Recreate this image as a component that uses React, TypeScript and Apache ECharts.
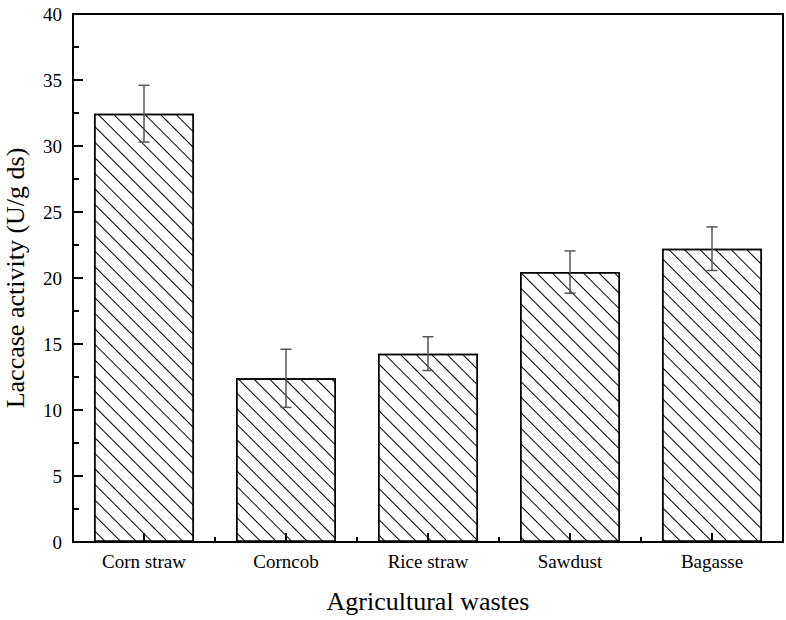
import React, { useEffect, useRef } from "react";
import * as echarts from "echarts";

const categories = ["Corn straw", "Corncob", "Rice straw", "Sawdust", "Bagasse"];
const meanValues = [32.45, 12.4, 14.27, 20.45, 22.22];
const errorValues = [2.15, 2.2, 1.28, 1.6, 1.65];
const yTicks = { min: 0, max: 40, interval: 5 };

const FONT = "Times New Roman";
const TICK = "#000";

export default function App() {
  const ref = useRef<HTMLDivElement>(null);

  useEffect(() => {
    document.body.style.margin = "0";
    if (!ref.current) return;
    const chart = echarts.init(ref.current, undefined, { renderer: "svg" });

    const errData = categories.map((_, i) => [i, meanValues[i], errorValues[i]]);
    const axisLineStyle = { color: "#000", width: 2 };

    const option: any = {
      animation: false,
      backgroundColor: "#fff",
      textStyle: { fontFamily: FONT, color: "#000" },
      grid: { left: 73, right: 3, top: 14, bottom: 78, outerBoundsMode: "none", containLabel: false },
      xAxis: [
        {
          type: "category",
          data: categories,
          name: "Agricultural wastes",
          nameLocation: "middle",
          nameGap: 46,
          nameTextStyle: { fontFamily: FONT, fontSize: 26, color: "#000" },
          axisLine: { show: true, onZero: false, lineStyle: axisLineStyle },
          axisTick: {
            show: true,
            inside: true,
            interval: 0,
            length: 5,
            lineStyle: { color: TICK, width: 2 },
          },
          axisLabel: { fontFamily: FONT, fontSize: 19, color: "#000", margin: 10 },
          splitLine: { show: false },
          z: 10,
        },
        {
          type: "category",
          data: categories,
          position: "top",
          axisLine: { show: true, onZero: false, lineStyle: axisLineStyle },
          axisTick: { show: false },
          axisLabel: { show: false },
          splitLine: { show: false },
          z: 10,
        },
      ],
      yAxis: [
        {
          type: "value",
          min: yTicks.min,
          max: yTicks.max,
          interval: yTicks.interval,
          name: "Laccase activity (U/g ds)",
          nameLocation: "middle",
          nameRotate: 90,
          nameGap: 45,
          nameTextStyle: { fontFamily: FONT, fontSize: 26, color: "#000" },
          axisLine: { show: true, onZero: false, lineStyle: axisLineStyle },
          axisTick: { show: true, inside: true, length: 10, lineStyle: { color: TICK, width: 2 } },
          minorTick: { show: true, splitNumber: 2, length: 6, lineStyle: { color: TICK, width: 2 } },
          axisLabel: { fontFamily: FONT, fontSize: 19, color: "#000", margin: 11 },
          splitLine: { show: false },
          z: 10,
        },
        {
          type: "value",
          position: "right",
          min: yTicks.min,
          max: yTicks.max,
          interval: yTicks.interval,
          axisLine: { show: true, onZero: false, lineStyle: axisLineStyle },
          axisTick: { show: false },
          axisLabel: { show: false },
          splitLine: { show: false },
          z: 10,
        },
      ],
      series: [
        {
          type: "bar",
          data: meanValues,
          barWidth: 100,
          itemStyle: {
            color: "#fff",
            borderColor: "#000",
            borderWidth: 1.5,
            decal: {
              symbol: "rect",
              symbolSize: 1,
              color: "#000",
              backgroundColor: "#fff",
              dashArrayX: [1, 0],
              dashArrayY: [0.6, 9.6],
              rotation: Math.PI / 4,
            },
          },
          z: 2,
        },
        {
          type: "custom",
          data: errData,
          encode: { x: 0, y: 1 },
          z: 5,
          renderItem: (params: any, api: any) => {
            const x = api.value(0);
            const m = api.value(1);
            const e = api.value(2);
            const top = api.coord([x, m + e]);
            const bot = api.coord([x, m - e]);
            const base = api.coord([x, yTicks.min]);
            const hw = 5.5;
            const style = { stroke: "#555", lineWidth: 1.5 };
            return {
              type: "group",
              children: [
                { type: "line", shape: { x1: top[0], y1: top[1], x2: bot[0], y2: bot[1] }, style },
                { type: "line", shape: { x1: top[0] - hw, y1: top[1], x2: top[0] + hw, y2: top[1] }, style },
                { type: "line", shape: { x1: bot[0] - hw, y1: bot[1], x2: bot[0] + hw, y2: bot[1] }, style },
                {
                  type: "line",
                  shape: { x1: base[0], y1: base[1], x2: base[0], y2: base[1] - 9 },
                  style: { stroke: TICK, lineWidth: 2 },
                },
              ],
            };
          },
        },
      ],
    };

    chart.setOption(option);
    return () => chart.dispose();
  }, []);

  return <div ref={ref} style={{ width: 786, height: 620 }} />;
}
